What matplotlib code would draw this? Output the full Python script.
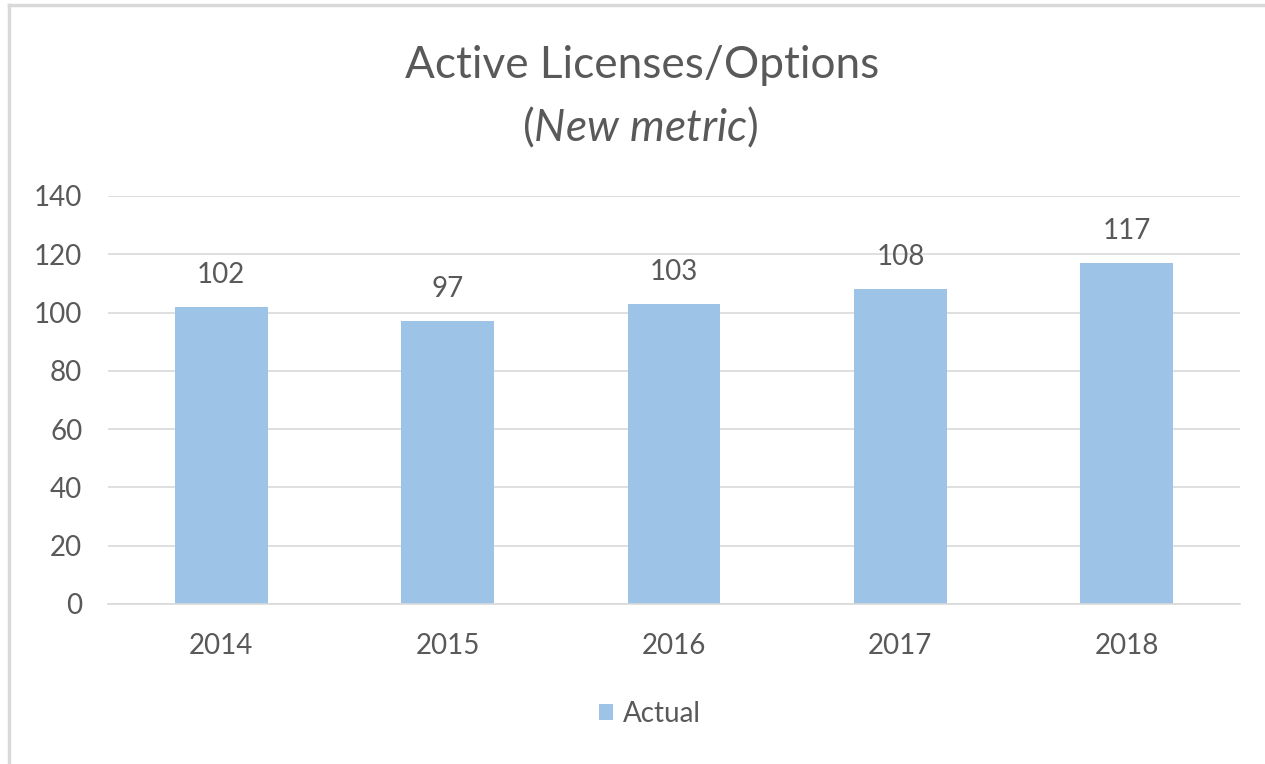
import numpy as np
import matplotlib.pyplot as plt
from matplotlib.lines import Line2D

# Chart data
years = ["2014", "2015", "2016", "2017", "2018"]
actual = [102, 97, 103, 108, 117]
y_ticks = [0, 20, 40, 60, 80, 100, 120, 140]

text_color = "#595959"
bar_color = "#9DC3E6"
grid_color = "#D9D9D9"

plt.rcParams['font.family'] = ['Lato', 'DejaVu Sans']
plt.rcParams['mathtext.fontset'] = 'custom'
plt.rcParams['mathtext.rm'] = 'Lato'
plt.rcParams['mathtext.it'] = 'Lato:italic'

W, H = 1265, 764
fig = plt.figure(figsize=(W / 100, H / 100), dpi=100)
ax = fig.add_axes([108 / W, 1 - 604 / H, (1240 - 108) / W, (604 - 196) / H])

x = np.arange(len(years))
bars = ax.bar(x, actual, width=0.41, color=bar_color, label="Actual", zorder=2)

fs = 20

# value labels above bars
for xi, v in zip(x, actual):
    ax.text(xi, v + 6.5, str(v), ha="center", va="bottom", fontsize=fs, color=text_color)

ax.set_xlim(-0.5, len(years) - 0.5)
ax.set_ylim(0, 140)
ax.set_yticks(y_ticks)
ax.set_xticks(x)
ax.set_xticklabels(years)
ax.tick_params(axis="both", length=0, labelsize=fs, labelcolor=text_color)
ax.tick_params(axis="x", pad=21)
ax.tick_params(axis="y", pad=18.5)
ax.grid(axis="y", color=grid_color, linewidth=1.2, zorder=0)
for side in ["top", "right", "left"]:
    ax.spines[side].set_visible(False)
ax.spines["bottom"].set_color(grid_color)
ax.spines["bottom"].set_linewidth(1.2)

# title, two lines, second line italic inside plain parentheses
fig.text(642 / W, 1 - 65 / H, "Active Licenses/Options", ha="center", va="center",
         fontsize=31.8, color=text_color)
fig.text(640 / W, 1 - 127 / H, r"($\mathit{New\ metric}$)", ha="center", va="center",
         fontsize=31.8, color=text_color)

ax.legend(loc="center", bbox_to_anchor=(650 / W, 1 - 714 / H), bbox_transform=fig.transFigure,
          frameon=False, fontsize=fs, labelcolor=text_color, handlelength=0.5,
          handleheight=0.5, handletextpad=0.35)

# light gray chart frame on left and top edges
fig.add_artist(Line2D([8.5 / W, 8.5 / W], [0, 1 - 4.5 / H], color=grid_color, linewidth=2.5))
fig.add_artist(Line2D([8.5 / W, 1263 / W], [1 - 4.5 / H, 1 - 4.5 / H], color=grid_color, linewidth=2.5))

fig.savefig("out.png", dpi=100)
